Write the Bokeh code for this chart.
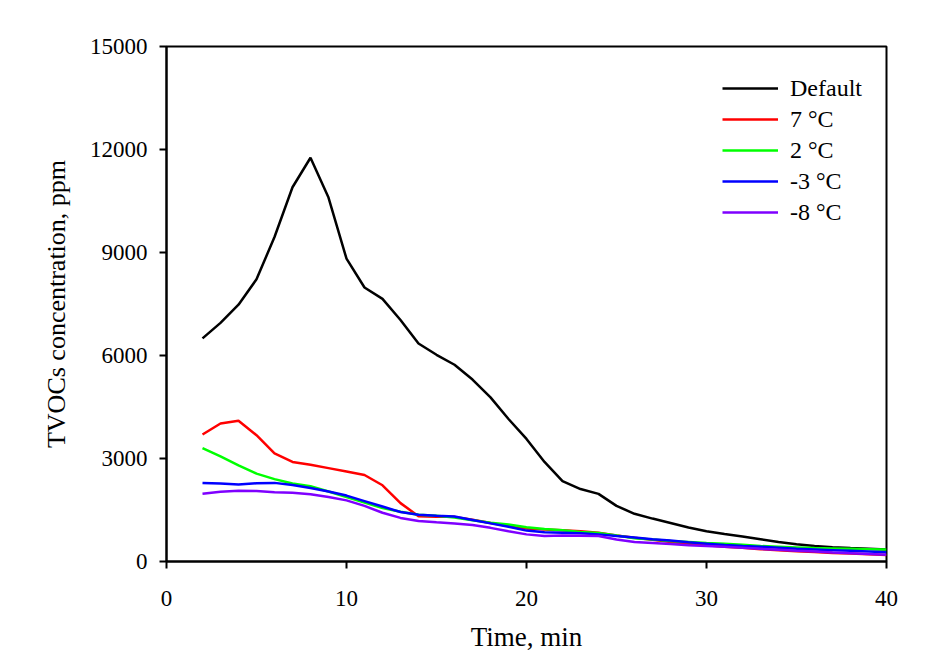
from bokeh.plotting import figure
from bokeh.models import Range1d, FixedTicker, Legend, LegendItem
from bokeh.embed import file_html
from bokeh.resources import INLINE

time_min = list(range(2, 41))

default = [6500, 6950, 7480, 8220, 9450, 10900, 11760, 10600, 8820, 7980,
           7650, 7035, 6350, 6020, 5730, 5300, 4780, 4150, 3570, 2900,
           2340, 2110, 1970, 1620, 1390, 1250, 1120, 990, 880, 800,
           730, 650, 570, 500, 450, 415, 390, 370, 350]
t7 = [3700, 4020, 4100, 3680, 3150, 2900, 2820, 2720, 2620, 2520,
      2220, 1700, 1320, 1300, 1300, 1220, 1120, 1030, 960, 930,
      910, 880, 840, 760, 690, 630, 570, 510, 470, 430,
      400, 360, 330, 300, 280, 250, 230, 210, 190]
t2 = [3300, 3060, 2800, 2560, 2400, 2270, 2190, 2040, 1880, 1720,
      1560, 1450, 1360, 1330, 1280, 1200, 1130, 1080, 1000, 950,
      910, 860, 830, 760, 680, 640, 600, 570, 540, 520,
      490, 450, 430, 410, 390, 380, 370, 360, 350]
tm3 = [2290, 2270, 2240, 2280, 2290, 2230, 2140, 2040, 1920, 1760,
       1600, 1440, 1360, 1330, 1310, 1210, 1110, 1010, 900, 850,
       840, 820, 790, 740, 700, 650, 610, 560, 520, 480,
       450, 430, 400, 370, 350, 330, 310, 290, 270]
tm8 = [1970, 2030, 2060, 2050, 2020, 2000, 1960, 1880, 1780, 1620,
       1420, 1270, 1180, 1140, 1110, 1060, 980, 880, 790, 740,
       760, 750, 740, 640, 570, 540, 510, 470, 450, 430,
       400, 370, 340, 310, 290, 260, 240, 220, 200]

series_names = ["Default", "7 \u00b0C", "2 \u00b0C", "-3 \u00b0C", "-8 \u00b0C"]
series_values = [default, t7, t2, tm3, tm8]
series_colors = ["#000000", "#ff0000", "#00ff00", "#0000ff", "#7f00ff"]

x_ticks = [0, 10, 20, 30, 40]
y_ticks = [0, 3000, 6000, 9000, 12000, 15000]

FONT = "Liberation Serif"

p = figure(width=935, height=654, output_backend="svg", toolbar_location=None,
           x_range=Range1d(0, 40), y_range=Range1d(0, 15000),
           min_border_left=166, min_border_right=49, min_border_top=46, min_border_bottom=92)
p.background_fill_color = "white"
p.border_fill_color = "white"
p.outline_line_color = "black"
p.outline_line_width = 2
p.xgrid.visible = False
p.ygrid.visible = False

for ax in (p.xaxis[0], p.yaxis[0]):
    ax.axis_line_width = 2
    ax.axis_line_color = "black"
    ax.major_tick_in = 0
    ax.major_tick_out = 7
    ax.major_tick_line_width = 2
    ax.minor_tick_line_color = None
    ax.major_label_text_font = FONT
    ax.major_label_text_font_size = "23px"
    ax.major_label_text_color = "black"
    ax.axis_label_text_font = FONT
    ax.axis_label_text_font_size = "26px"
    ax.axis_label_text_font_style = "normal"
    ax.axis_label_text_color = "black"

p.xaxis.axis_label_text_font_size = "27px"
p.xaxis.ticker = FixedTicker(ticks=x_ticks)
p.yaxis.ticker = FixedTicker(ticks=y_ticks)
p.xaxis.axis_label = "Time, min"
p.yaxis.axis_label = "TVOCs concentration, ppm"
p.xaxis.major_label_standoff = 22
p.yaxis.major_label_standoff = 12
p.xaxis.axis_label_standoff = 13
p.yaxis.axis_label_standoff = 16

items = []
for name, vals, col in zip(series_names, series_values, series_colors):
    r = p.line(time_min, vals, line_color=col, line_width=2.5)
    items.append(LegendItem(label=name, renderers=[r]))

legend = Legend(items=items, location=(556, 334))
legend.border_line_color = None
legend.background_fill_alpha = 0
legend.padding = 0
legend.margin = 0
legend.spacing = 1
legend.glyph_width = 56
legend.glyph_height = 30
legend.label_height = 30
legend.label_standoff = 12
legend.label_text_font = FONT
legend.label_text_font_size = "24px"
legend.label_text_color = "black"
p.add_layout(legend)

open("out.html", "w").write(file_html(p, INLINE))
